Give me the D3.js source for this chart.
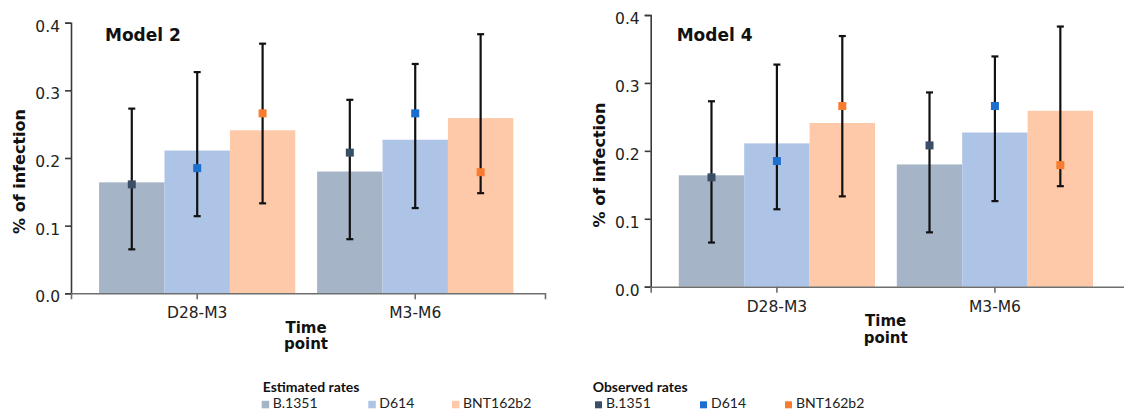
<!DOCTYPE html>
<html>
<head>
<meta charset="utf-8">
<script src="https://cdn.jsdelivr.net/npm/d3@7"></script>
<style>
  html, body { margin: 0; padding: 0; background: #fff; }
  svg { display: block; }
</style>
</head>
<body>
<svg id="chart" width="1124" height="419"></svg>
<script>
// ---------- data ----------
const models = ["Model 2", "Model 4"];
const categories = ["D28-M3", "M3-M6"];
const variants = ["B.1351", "D614", "BNT162b2"];

// estimated rates (bars)
const estB1351 = [0.164, 0.180];
const estD614  = [0.211, 0.227];
const estBNT   = [0.241, 0.259];

// observed rates (points) with intervals
const obsB1351 = [0.161, 0.208];
const obsD614  = [0.185, 0.266];
const obsBNT   = [0.266, 0.179];
const lowB1351 = [0.065, 0.080];
const highB1351 = [0.273, 0.286];
const lowD614  = [0.114, 0.126];
const highD614 = [0.327, 0.339];
const lowBNT   = [0.133, 0.148];
const highBNT  = [0.369, 0.383];

const yTicks = [0, 0.1, 0.2, 0.3, 0.4];

// ---------- styles ----------
const estColors = ["#a6b4c8", "#adc4e7", "#fdc9a9"];
const obsColors = ["#3a4e66", "#1c6fce", "#f77c2f"];

const estSeries = [estB1351, estD614, estBNT];
const obsSeries = [obsB1351, obsD614, obsBNT];
const lowSeries = [lowB1351, lowD614, lowBNT];
const highSeries = [highB1351, highD614, highBNT];

// ---------- layout ----------
const panels = [
  { x0: 71, x1: 545, yTop: 22.7, yBot: 293.3, titleX: 105, ylabX: 25, ylabY: 171.5 },
  { x0: 650.7, x1: 1124.7, yTop: 15, yBot: 286.7, titleX: 676.7, ylabX: 605, ylabY: 165 }
];
const titleBaseline = 40.7;
const VFONT = "'DejaVu Sans', Verdana, sans-serif";
const LFONT = "Lato, 'Open Sans', sans-serif";

const svg = d3.select("#chart");

panels.forEach((p, pi) => {
  const g = svg.append("g");
  const x = d3.scaleBand().domain(categories).range([p.x0, p.x1])
    .paddingInner(0.1).paddingOuter(0.137).align(0.47);
  const xs = d3.scaleBand().domain(variants).range([0, x.bandwidth()]).padding(0);
  const y = d3.scaleLinear().domain([0, 0.4]).range([p.yBot, p.yTop]);

  // bars
  variants.forEach((v, vi) => {
    g.append("g").selectAll("rect").data(categories).join("rect")
      .attr("x", c => x(c) + xs(v))
      .attr("width", xs.bandwidth())
      .attr("y", (c, ci) => y(estSeries[vi][ci]))
      .attr("height", (c, ci) => y(0) - y(estSeries[vi][ci]))
      .attr("fill", estColors[vi]);
  });

  // error bars + points
  variants.forEach((v, vi) => {
    const eg = g.append("g");
    const cx = c => x(c) + xs(v) + xs.bandwidth() / 2;
    eg.selectAll("line.v").data(categories).join("line").attr("class", "v")
      .attr("x1", cx).attr("x2", cx)
      .attr("y1", (c, ci) => y(lowSeries[vi][ci]))
      .attr("y2", (c, ci) => y(highSeries[vi][ci]))
      .attr("stroke", "#111").attr("stroke-width", 2.2);
    [lowSeries[vi], highSeries[vi]].forEach(arr => {
      eg.append("g").selectAll("line").data(categories).join("line")
        .attr("x1", c => cx(c) - 3.5).attr("x2", c => cx(c) + 3.5)
        .attr("y1", (c, ci) => y(arr[ci])).attr("y2", (c, ci) => y(arr[ci]))
        .attr("stroke", "#111").attr("stroke-width", 2.2);
    });
    eg.selectAll("rect").data(categories).join("rect")
      .attr("x", c => cx(c) - 4).attr("width", 8)
      .attr("y", (c, ci) => y(obsSeries[vi][ci]) - 4).attr("height", 8)
      .attr("fill", obsColors[vi]);
  });

  // axes
  const yAxis = g.append("g").attr("transform", `translate(${p.x0},0)`)
    .call(d3.axisLeft(y).tickValues(yTicks).tickFormat(d3.format(".1f")).tickSize(6).tickPadding(5));
  yAxis.selectAll("path, line").attr("stroke", "#3a3a3a").attr("stroke-width", 1.6);
  yAxis.selectAll("text").attr("font-family", VFONT).attr("font-size", 15.5)
    .attr("fill", "#222").attr("dy", "0.55em");

  const xAxis = g.append("g").attr("transform", `translate(0,${p.yBot})`)
    .call(d3.axisBottom(x).tickSize(6).tickPadding(8));
  xAxis.selectAll("path, line").attr("stroke", "#6e6e6e").attr("stroke-width", 1.6);
  xAxis.selectAll("text").attr("font-family", VFONT).attr("font-size", 15.5).attr("fill", "#222");

  // title
  g.append("text").attr("x", p.titleX).attr("y", titleBaseline)
    .attr("font-family", VFONT).attr("font-weight", "bold").attr("font-size", 17)
    .attr("fill", "#111").text(models[pi]);

  // y label
  g.append("text").attr("transform", `translate(${p.ylabX},${p.ylabY}) rotate(-90)`)
    .attr("text-anchor", "middle")
    .attr("font-family", VFONT).attr("font-weight", "bold").attr("font-size", 16)
    .attr("fill", "#111").text("% of infection");

  // x label
  const mid = (p.x0 + p.x1) / 2 - 2;
  const xl = g.append("text").attr("text-anchor", "middle")
    .attr("font-family", VFONT).attr("font-weight", "bold").attr("font-size", 15).attr("fill", "#111");
  xl.append("tspan").attr("x", mid).attr("y", p.yBot + 39.4).text("Time");
  xl.append("tspan").attr("x", mid).attr("y", p.yBot + 56).text("point");
});

// ---------- legend ----------
const legends = [
  { title: "Estimated rates", titleX: 262.7, swX: [261.7, 368.3, 452], colors: estColors, size: 7.5 },
  { title: "Observed rates", titleX: 592.7, swX: [595, 700, 785], colors: obsColors, size: 7 }
];
legends.forEach(L => {
  const lg = svg.append("g");
  lg.append("text").attr("x", L.titleX).attr("y", 391.7)
    .attr("font-family", LFONT).attr("font-weight", "bold").attr("font-size", 14)
    .attr("fill", "#111").text(L.title);
  lg.selectAll("rect").data(variants).join("rect")
    .attr("x", (d, i) => L.swX[i]).attr("y", 408.3 - L.size).attr("width", L.size).attr("height", L.size)
    .attr("fill", (d, i) => L.colors[i]);
  lg.selectAll("text.it").data(variants).join("text").attr("class", "it")
    .attr("x", (d, i) => L.swX[i] + 11).attr("y", 408.3)
    .attr("font-family", LFONT).attr("font-size", 14).attr("fill", "#222").text(d => d);
});
</script>
</body>
</html>
